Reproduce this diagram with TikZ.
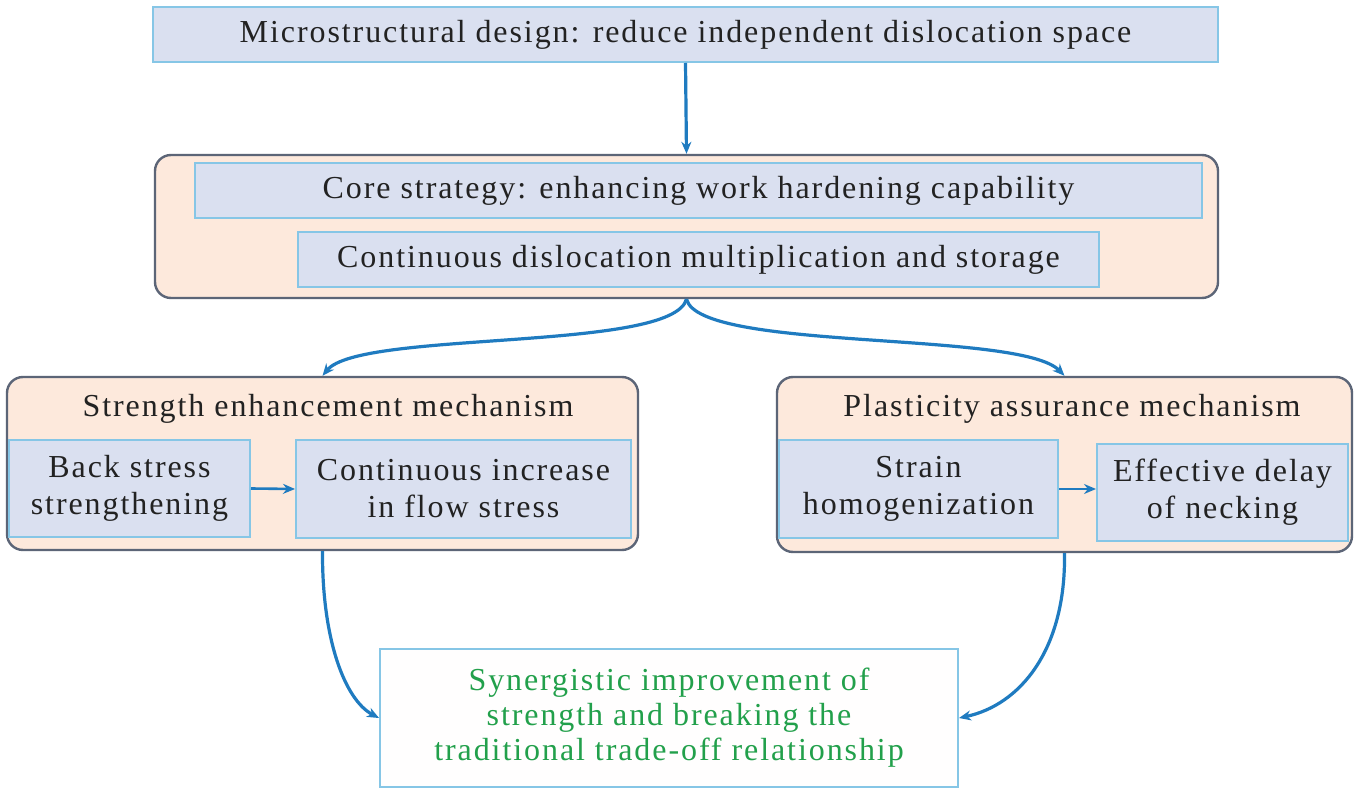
\documentclass[tikz,border=0pt]{standalone}
\usepackage{fontspec}
\setmainfont{Liberation Serif}[LetterSpace=6]
\usetikzlibrary{arrows.meta,calc}
\definecolor{inbg}{HTML}{DAE0F0}
\definecolor{inbd}{HTML}{86C6E6}
\definecolor{peach}{HTML}{FDE9DC}
\definecolor{outbd}{HTML}{5C6577}
\definecolor{arr}{HTML}{1F7BC0}
\definecolor{grn}{HTML}{22A04B}
\definecolor{txt}{HTML}{222222}
\tikzset{
  inbox/.style={draw=inbd,fill=inbg,line width=2pt,inner sep=0pt,align=center,text=txt,font=\fontsize{32}{37}\selectfont},
  outbox/.style={draw=outbd,fill=peach,line width=2.4pt,rounded corners=16pt,inner sep=0pt},
  ttl/.style={text=txt,font=\fontsize{32}{37}\selectfont,inner sep=0pt},
  conn/.style={draw=arr,line width=3.2pt,-{Stealth[length=12pt,width=10pt]}},
}
\begin{document}
\begin{tikzpicture}[x=1pt,y=-1pt]
\useasboundingbox[fill=white] (0,0) rectangle (1358,794);
\node[inbox,minimum width=1065pt,minimum height=55pt] (T) at (685.5,34.5) {Microstructural design: reduce independent dislocation space};
\node[outbox,minimum width=1063pt,minimum height=143pt] (C) at (686.5,226.5) {};
\node[inbox,minimum width=1007pt,minimum height=55pt] (C1) at (698.5,190.5) {Core strategy: enhancing work hardening capability};
\node[inbox,minimum width=801pt,minimum height=55pt] (C2) at (698.5,259.5) {Continuous dislocation multiplication and storage};
\node[outbox,minimum width=631pt,minimum height=173pt] (L) at (322.5,463.5) {};
\node[ttl] (LT) at (328,409) {Strength enhancement mechanism};
\node[inbox,minimum width=241pt,minimum height=97pt] (BS) at (129.5,488.5) {Back stress\\strengthening};
\node[inbox,minimum width=335pt,minimum height=98pt] (CI) at (463.5,489) {Continuous increase\\in flow stress};
\node[outbox,minimum width=575pt,minimum height=175pt] (R) at (1064.5,464.5) {};
\node[ttl] (RT) at (1072,409) {Plasticity assurance mechanism};
\node[inbox,minimum width=279pt,minimum height=98pt] (SH) at (918.5,489) {Strain\\homogenization};
\node[inbox,minimum width=251pt,minimum height=97pt] (ED) at (1222.5,492.5) {Effective delay\\of necking};
\node[draw=inbd,fill=white!97!peach,line width=2pt,minimum width=578pt,minimum height=138pt,inner sep=0pt,align=center,text=grn,font=\fontsize{32}{35}\selectfont] (B) at (669,718) {Synergistic improvement of\\strength and breaking the\\traditional trade-off relationship};
\draw[conn] (T.south) -- (C.north);
\draw[conn] (C.south) .. controls (672,352) and (360,330) .. (L.north);
\draw[conn] (C.south) .. controls (700,352) and (1020,330) .. (R.north);
\draw[conn,line width=2.6pt] (BS.east) -- (CI.west);
\draw[conn,line width=2.6pt] (SH.east) -- (SH.east -| ED.west);
\draw[conn] (L.south) .. controls (322,640) and (345,700) .. (B.west);
\draw[conn] (R.south) .. controls (1066,650) and (1020,705) .. (B.east);
\end{tikzpicture}
\end{document}
